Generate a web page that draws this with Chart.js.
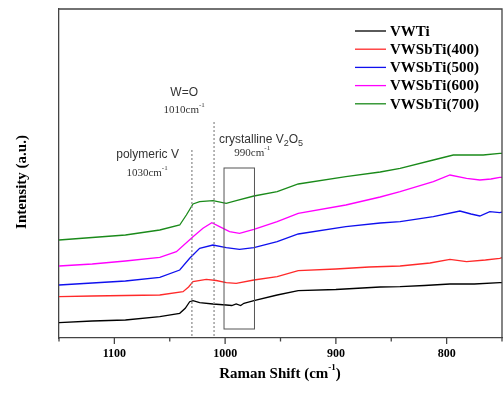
<!DOCTYPE html>
<html><head><meta charset="utf-8">
<script src="https://cdn.jsdelivr.net/npm/chart.js@4/dist/chart.umd.min.js"></script>
<style>html,body{margin:0;padding:0;background:#fff}#wrap{width:503px;height:393px}</style>
</head><body><div id="wrap"><canvas id="c" width="503" height="393"></canvas></div>
<script>
// ---- data (Raman shift cm^-1, intensity a.u. offset-stacked) ----
const seriesNames = ["VWTi", "VWSbTi(400)", "VWSbTi(500)", "VWSbTi(600)", "VWSbTi(700)"];
const seriesColors = ["#000000", "#ff2a2a", "#1010ee", "#ff00ff", "#1a8a1a"];

const shiftVWTi = [1150,1120,1090,1059,1041,1036,1032,1029,1023,1011,999,994,990,986,983,974,953,934,900,860,842,820,797,775,752,750];
const intVWTi   = [15.3,17,18,21.3,24.7,29.7,36.3,37.3,35.3,34,33,32.5,34,32.5,34.7,37.3,43,47.3,48.5,51,51.3,52.5,54,54,55.3,55.3];

const shift400 = [1150,1120,1090,1059,1038,1033,1029,1017,1008,999,990,974,953,934,900,870,842,815,797,782,765,752,750];
const int400   = [41.3,42,42.5,43,46.3,51,56.3,58.7,57.5,55.3,54.7,58,61.3,67.3,69,71,72,75,78.7,76.3,78,79.7,80.3];

const shift500 = [1150,1120,1090,1059,1041,1032,1023,1011,999,987,974,953,934,891,860,842,812,788,778,770,761,752,750];
const int500   = [53,55,57,60.7,68,79.7,89.7,93,90.3,88.7,90.3,96.3,104,111.3,115,116.3,121.3,127,124,122,126.3,125.3,126];

const shift600 = [1150,1120,1090,1059,1044,1029,1020,1012,1005,996,987,974,953,934,891,860,842,812,797,782,770,760,752,750];
const int600   = [72,74,77,80.7,86.3,101.3,109.7,115.3,111.3,106.3,104.7,108.7,116.3,124.7,133,141,146.3,156.3,163,159.7,158,159,160.7,160.7];

const shift700 = [1150,1120,1090,1059,1041,1035,1029,1023,1011,999,990,974,953,934,891,860,842,812,794,767,752,750];
const int700   = [98,100.5,103,108,113,123,134,136.3,137.3,134.7,137.3,142,146.3,154,161.3,166,169.7,178,183,183,184.7,184.7];

const xTickLabels = [1100, 1000, 900, 800];

const allShifts = [shiftVWTi, shift400, shift500, shift600, shift700];
const allInts = [intVWTi, int400, int500, int600, int700];

const datasets = seriesNames.map((name, i) => ({
  label: name,
  data: allShifts[i].map((x, j) => ({x: x, y: allInts[i][j]})),
  borderColor: seriesColors[i],
  backgroundColor: seriesColors[i],
  borderWidth: 1.3,
  pointRadius: 0,
  tension: 0,
  fill: false
}));

const AXIS = '#444';
const SERIF = '"Liberation Serif", "Times New Roman", serif';
const SANS = '"Liberation Sans", Arial, sans-serif';

function supText(ctx, parts, x, y, align) {
  let total = 0;
  parts.forEach(p => { ctx.font = p.font; total += ctx.measureText(p.t).width; });
  let cx = align === 'center' ? x - total / 2 : x;
  ctx.textAlign = 'left';
  parts.forEach(p => {
    ctx.font = p.font;
    ctx.fillText(p.t, cx, y + (p.dy || 0));
    cx += ctx.measureText(p.t).width;
  });
}

const decor = {
  id: 'decor',
  afterDatasetsDraw(chart) {
    const ctx = chart.ctx, a = chart.chartArea;
    const xs = chart.scales.x, ys = chart.scales.y;
    ctx.save();
    ctx.strokeStyle = AXIS; ctx.lineWidth = 1.3;
    ctx.beginPath();
    ctx.moveTo(a.left, a.top); ctx.lineTo(a.right, a.top); ctx.lineTo(a.right, a.bottom);
    ctx.stroke();
    xs.ticks.forEach(t => {
      const px = xs.getPixelForValue(t.value);
      const len = (t.value % 100 === 0) ? 6 : 3.5;
      ctx.beginPath(); ctx.moveTo(px, a.bottom); ctx.lineTo(px, a.bottom + len); ctx.stroke();
    });
    ctx.strokeStyle = '#888'; ctx.lineWidth = 1.2; ctx.setLineDash([2, 2]);
    [[1030, 188], [1010, 216]].forEach(([v, top]) => {
      const px = xs.getPixelForValue(v);
      ctx.beginPath(); ctx.moveTo(px, ys.getPixelForValue(top)); ctx.lineTo(px, a.bottom); ctx.stroke();
    });
    ctx.setLineDash([]);
    ctx.strokeStyle = '#555'; ctx.lineWidth = 1;
    const rx1 = xs.getPixelForValue(1001), rx2 = xs.getPixelForValue(973.5);
    const ry1 = ys.getPixelForValue(170), ry2 = ys.getPixelForValue(9);
    ctx.strokeRect(rx1, ry1, rx2 - rx1, ry2 - ry1);
    ctx.textBaseline = 'middle';
    ctx.fillStyle = '#333';
    const sans = '12px ' + SANS, sansSub = '9px ' + SANS;
    const ser = '11px ' + SERIF, serSup = '7px ' + SERIF;
    supText(ctx, [{t: 'W=O', font: sans}], xs.getPixelForValue(1037), ys.getPixelForValue(245), 'center');
    supText(ctx, [{t: '1010cm', font: ser}, {t: '-1', font: serSup, dy: -5}], xs.getPixelForValue(1037), ys.getPixelForValue(228), 'center');
    supText(ctx, [{t: 'polymeric V', font: sans}], xs.getPixelForValue(1070), ys.getPixelForValue(183), 'center');
    supText(ctx, [{t: '1030cm', font: ser}, {t: '-1', font: serSup, dy: -5}], xs.getPixelForValue(1070.5), ys.getPixelForValue(165), 'center');
    supText(ctx, [{t: 'crystalline V', font: sans}, {t: '2', font: sansSub, dy: 4}, {t: 'O', font: sans}, {t: '5', font: sansSub, dy: 4}], xs.getPixelForValue(1005.5), ys.getPixelForValue(198.7), 'left');
    supText(ctx, [{t: '990cm', font: ser}, {t: '-1', font: serSup, dy: -5}], xs.getPixelForValue(975.5), ys.getPixelForValue(184.7), 'center');
    const lx1 = 355, lx2 = 386, tx = 390;
    chart.data.datasets.forEach((d, i) => {
      const y = 31 + i * 18.2;
      ctx.strokeStyle = d.borderColor; ctx.lineWidth = 1.3;
      ctx.beginPath(); ctx.moveTo(lx1, y); ctx.lineTo(lx2, y); ctx.stroke();
      ctx.fillStyle = '#000'; ctx.font = 'bold 15px ' + SERIF; ctx.textAlign = 'left';
      ctx.fillText(d.label, tx, y + 1);
    });
    ctx.fillStyle = '#000';
    supText(ctx, [{t: 'Raman Shift (cm', font: 'bold 15px ' + SERIF}, {t: '-1', font: 'bold 9px ' + SERIF, dy: -6}, {t: ')', font: 'bold 15px ' + SERIF}], 280, 374, 'center');
    ctx.save();
    ctx.translate(22, 182); ctx.rotate(-Math.PI / 2);
    ctx.font = 'bold 15px ' + SERIF; ctx.textAlign = 'center';
    ctx.fillText('Intensity (a.u.)', 0, 0);
    ctx.restore();
    ctx.restore();
  }
};

new Chart(document.getElementById('c'), {
  type: 'line',
  data: { datasets: datasets },
  options: {
    responsive: false,
    animation: false,
    devicePixelRatio: 1,
    layout: { padding: { top: 9, right: 1, left: 0, bottom: 0 } },
    plugins: { legend: { display: false }, tooltip: { enabled: false } },
    scales: {
      x: {
        type: 'linear', reverse: true, min: 750, max: 1150,
        grid: { display: false, drawTicks: false },
        border: { display: true, color: AXIS, width: 1.3 },
        ticks: {
          stepSize: 50, autoSkip: false, maxRotation: 0, padding: 9,
          color: '#000', font: { family: SERIF, size: 12, weight: 'bold' },
          callback: v => xTickLabels.includes(v) ? String(v) : ''
        },
        afterFit: s => { s.height = 55; s.paddingLeft = 0; s.paddingRight = 0; }
      },
      y: {
        min: 0, max: 329,
        grid: { display: false, drawTicks: false },
        border: { display: true, color: AXIS, width: 1.3 },
        ticks: { display: false },
        afterFit: s => { s.width = 59; s.paddingTop = 0; s.paddingBottom = 0; }
      }
    }
  },
  plugins: [decor]
});
</script></body></html>
